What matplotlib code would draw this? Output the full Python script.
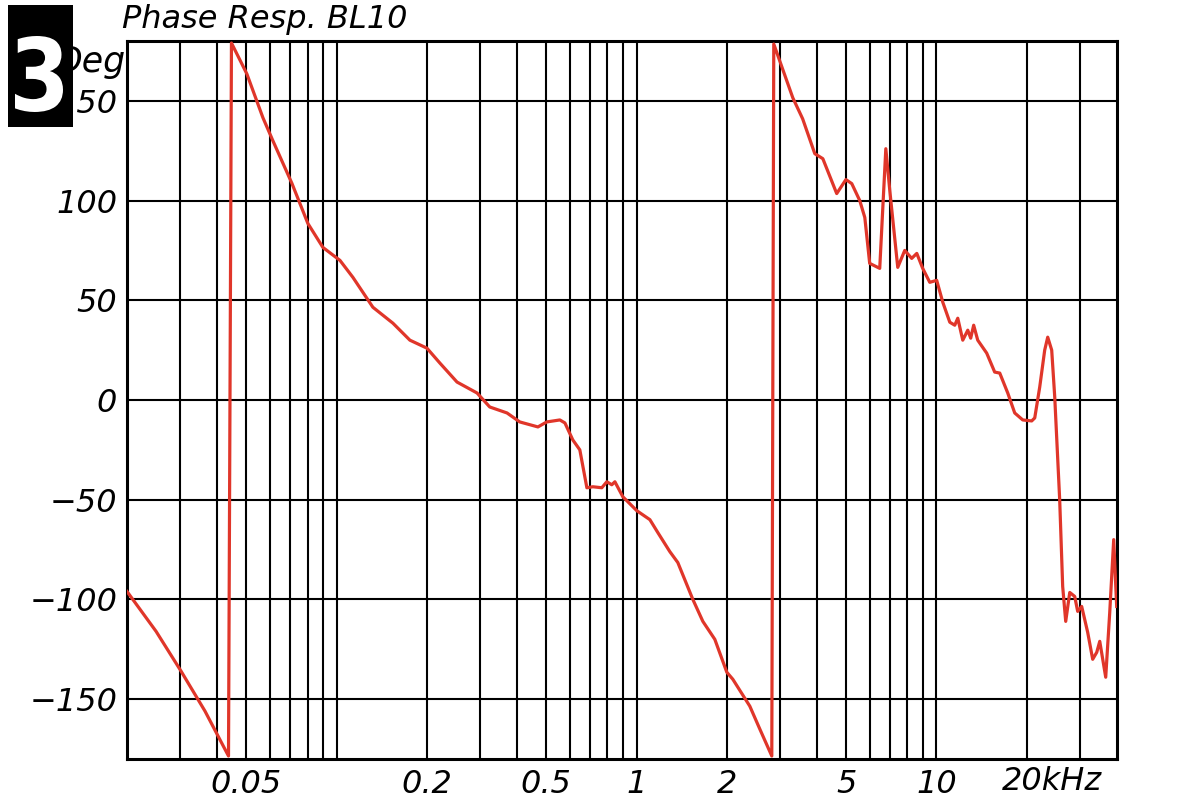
import matplotlib
matplotlib.use("Agg")
import matplotlib.pyplot as plt
from matplotlib.patches import Rectangle, PathPatch
from matplotlib.textpath import TextPath
from matplotlib.font_manager import FontProperties
from matplotlib.transforms import Affine2D

# ---- data ----
freq_khz = [
    0.020, 0.025, 0.0303, 0.0364, 0.0436,
    0.0446, 0.0502, 0.0568, 0.0613, 0.0710, 0.0802, 0.0900, 0.1026, 0.1133,
    0.1321, 0.1541, 0.1755, 0.200, 0.221, 0.252, 0.294, 0.324, 0.370, 0.408,
    0.469, 0.502, 0.555, 0.577, 0.613, 0.647, 0.683, 0.715, 0.766, 0.796,
    0.827, 0.847, 0.900, 1.002, 1.108, 1.178, 1.291, 1.373, 1.541, 1.664,
    1.824, 2.000, 2.094, 2.386, 2.577, 2.825,
    2.868, 3.32, 3.58, 3.93, 4.18, 4.65, 4.99, 5.22, 5.55, 5.77, 5.99, 6.47,
    6.78, 6.99, 7.43, 7.84, 8.27, 8.60, 9.00, 9.50, 10.02, 10.50, 11.08,
    11.51, 11.78, 12.24, 12.72, 13.01, 13.31, 13.73, 14.71, 15.64, 16.26,
    17.29, 18.24, 19.40, 20.78, 21.27, 22.10, 22.96, 23.50, 24.23, 24.80,
    25.76, 26.36, 26.98, 27.83, 28.91, 29.58, 30.50, 31.94, 33.19, 34.24,
    35.04, 35.85, 36.68, 37.83, 39.00, 39.9,
]
phase_deg = [
    -96, -116, -136, -156, -178.5,
    179, 163.5, 141.5, 130, 108.5, 88.5, 76.5, 70, 61.5,
    46.5, 38.5, 30, 26, 18.5, 9, 3.5, -3.5, -6.5, -11,
    -13.5, -11, -10, -11.5, -20, -25, -44, -43.5, -44, -41,
    -42.5, -41, -48.5, -55.5, -60, -66.5, -76, -81.5, -100, -111,
    -120, -136.5, -140, -153.5, -165, -178.5,
    178.5, 151.5, 141, 123.5, 121, 103.5, 110.5, 108.5, 100, 91.5, 68.5, 66,
    126, 105, 66.5, 75, 71, 73.5, 66, 59, 60, 49, 39,
    37.5, 41, 30, 35, 31, 37.5, 30, 23.5, 14, 13.5,
    3.5, -6.5, -10, -10.5, -9, 6.5, 25, 31.5, 25, 1.5,
    -50, -93.5, -111, -96.5, -98.5, -106, -103.5, -116.5, -130, -126.5,
    -121, -130, -139, -106.5, -70, -103.5,
]

grid_freqs = [0.03, 0.04, 0.05, 0.06, 0.07, 0.08, 0.09,
              0.1, 0.2, 0.3, 0.4, 0.5, 0.6, 0.7, 0.8, 0.9,
              1, 2, 3, 4, 5, 6, 7, 8, 9, 10, 20, 30]
x_labels = {0.05: "0.05", 0.2: "0.2", 0.5: "0.5", 1: "1", 2: "2",
            5: "5", 10: "10"}
y_ticks = [-150, -100, -50, 0, 50, 100, 150]

W, H = 1200, 800
fig = plt.figure(figsize=(12, 8), dpi=100)
ax = fig.add_axes([127 / W, 1 - 759 / H, (1117 - 127) / W, (759 - 41) / H])

ax.set_xscale("log")
ax.set_xlim(0.02, 40)
ax.set_ylim(-180, 180)

ax.plot(freq_khz, phase_deg, color="#e0362a", lw=2.3, zorder=3,
        solid_joinstyle="round")

for f in grid_freqs:
    ax.axvline(f, color="black", lw=1.5, zorder=2)
for yv in y_ticks:
    ax.axhline(yv, color="black", lw=1.5, zorder=2)

for s in ax.spines.values():
    s.set_linewidth(2.2)
    s.set_color("black")

tfont = dict(family="DejaVu Sans", style="italic", size=23)
ax.set_xticks(grid_freqs)
ax.set_xticklabels([x_labels.get(f, "") for f in grid_freqs], fontdict=tfont)
ax.minorticks_off()
ax.set_yticks(y_ticks)
ax.set_yticklabels([f"{v}".replace("-", "\u2212") for v in y_ticks], fontdict=tfont)
ax.tick_params(axis="both", length=0)
ax.tick_params(axis="x", pad=7)
ax.tick_params(axis="y", pad=7)

ax.annotate("20kHz", xy=(20, 0), xycoords=("data", "axes fraction"),
            xytext=(-25, -7), textcoords="offset pixels",
            ha="left", va="top", **tfont)

# title and unit
fig.text(122 / W, 1 - 28 / H, "Phase Resp. BL10", ha="left", va="baseline",
         family="DejaVu Sans", style="italic", size=23)
fig.text(125 / W, 1 - 62 / H, "Deg", ha="right", va="center",
         family="DejaVu Sans", style="italic", size=25)

# black badge with white "3"
fig.add_artist(Rectangle((8 / W, 1 - 127 / H), (73 - 8) / W, (127 - 5) / H,
                         transform=fig.transFigure, facecolor="black",
                         edgecolor="none", zorder=20))
tp = TextPath((0, 0), "3", size=1,
              prop=FontProperties(family="DejaVu Sans", weight="bold"))
bb = tp.get_extents()
x0, x1 = 15 / W, 63 / W
y0, y1 = 1 - 112 / H, 1 - 36 / H
tr = (Affine2D().translate(-bb.x0, -bb.y0)
      .scale((x1 - x0) / bb.width, (y1 - y0) / bb.height)
      .translate(x0, y0))
fig.add_artist(PathPatch(tr.transform_path(tp), transform=fig.transFigure,
                         facecolor="white", edgecolor="none", zorder=21))

fig.savefig("out.png", dpi=100, facecolor="white")
